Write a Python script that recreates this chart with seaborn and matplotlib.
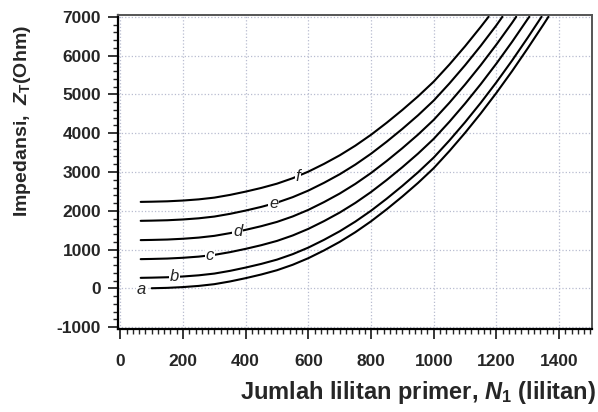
import matplotlib
matplotlib.use('Agg')
import matplotlib.pyplot as plt
from matplotlib.ticker import MultipleLocator
import seaborn as sns
import pandas as pd

# Data: turns N1 vs impedance Z_T (Ohm), curves a-f
n_a = [100, 150, 200, 250, 300, 350, 400, 450, 500, 550, 600, 650, 700, 750, 800,
       850, 900, 950, 1000, 1050, 1100, 1150, 1200, 1250, 1300, 1350, 1366]
z_a = [5, 15, 35, 65, 110, 180, 265, 360, 470, 610, 780, 980, 1200, 1450, 1730,
       2040, 2370, 2720, 3100, 3540, 4010, 4510, 5040, 5600, 6190, 6800, 7000]
n_b = [65, 100, 150, 200, 250, 300, 350, 400, 450, 500, 550, 600, 650, 700, 750,
       800, 850, 900, 950, 1000, 1050, 1100, 1150, 1200, 1250, 1300, 1344]
z_b = [273, 278, 288, 308, 338, 383, 453, 538, 633, 743, 883, 1053, 1253, 1473, 1723,
       2003, 2313, 2643, 2993, 3373, 3813, 4283, 4783, 5313, 5873, 6463, 7000]
n_c = [65, 100, 150, 200, 250, 300, 350, 400, 450, 500, 550, 600, 650, 700, 750,
       800, 850, 900, 950, 1000, 1050, 1100, 1150, 1200, 1250, 1300, 1305]
z_c = [755, 760, 770, 790, 820, 865, 935, 1020, 1115, 1225, 1365, 1535, 1735, 1955, 2205,
       2485, 2795, 3125, 3475, 3855, 4295, 4765, 5265, 5795, 6355, 6945, 7000]
n_d = [65, 100, 150, 200, 250, 300, 350, 400, 450, 500, 550, 600, 650, 700, 750,
       800, 850, 900, 950, 1000, 1050, 1100, 1150, 1200, 1250, 1263]
z_d = [1245, 1250, 1260, 1280, 1310, 1355, 1425, 1510, 1605, 1715, 1855, 2025, 2225, 2445, 2695,
       2975, 3285, 3615, 3965, 4345, 4785, 5255, 5755, 6285, 6845, 7000]
n_e = [65, 100, 150, 200, 250, 300, 350, 400, 450, 500, 550, 600, 650, 700, 750,
       800, 850, 900, 950, 1000, 1050, 1100, 1150, 1200, 1219]
z_e = [1742, 1747, 1757, 1777, 1807, 1852, 1922, 2007, 2102, 2212, 2352, 2522, 2722, 2942, 3192,
       3472, 3782, 4112, 4462, 4842, 5282, 5752, 6252, 6782, 7000]
n_f = [65, 100, 150, 200, 250, 300, 350, 400, 450, 500, 550, 600, 650, 700, 750,
       800, 850, 900, 950, 1000, 1050, 1100, 1150, 1175]
z_f = [2230, 2235, 2245, 2265, 2295, 2340, 2410, 2495, 2590, 2700, 2840, 3010, 3210, 3430, 3680,
       3960, 4270, 4600, 4950, 5330, 5770, 6240, 6740, 7000]

curve_names = ['a', 'b', 'c', 'd', 'e', 'f']
curve_n = [n_a, n_b, n_c, n_d, n_e, n_f]
curve_z = [z_a, z_b, z_c, z_d, z_e, z_f]
label_n = [68, 174, 285, 375, 490, 566]
label_z = [-20, 297, 850, 1460, 2200, 2890]

rows = []
for name, ns, zs in zip(curve_names, curve_n, curve_z):
    for n, z in zip(ns, zs):
        rows.append({'kurva': name, 'N1': n, 'ZT': z})
df = pd.DataFrame(rows)

sns.set_style('ticks')
plt.rcParams['font.family'] = ['Liberation Sans', 'DejaVu Sans']
plt.rcParams['axes.unicode_minus'] = False
plt.rcParams['mathtext.fontset'] = 'custom'
plt.rcParams['mathtext.rm'] = 'Liberation Sans:bold'
plt.rcParams['mathtext.it'] = 'Liberation Sans:bold:italic'
plt.rcParams['mathtext.bf'] = 'Liberation Sans:bold'

fig = plt.figure(figsize=(5.98, 4.12), dpi=100)
ax = fig.add_axes([0.197, 0.201, 0.793, 0.763])

sns.lineplot(data=df, x='N1', y='ZT', units='kurva', estimator=None,
             color='black', linewidth=1.5, sort=False, ax=ax)

for name, n, z in zip(curve_names, label_n, label_z):
    ax.text(n, z, name, fontsize=12, fontstyle='italic', ha='center', va='center',
            bbox=dict(facecolor='white', edgecolor='none', pad=0.6))

ax.set_xlim(-8, 1505)
ax.set_ylim(-1050, 7050)
ax.xaxis.set_major_locator(MultipleLocator(200))
ax.xaxis.set_minor_locator(MultipleLocator(20))
ax.yaxis.set_major_locator(MultipleLocator(1000))
ax.yaxis.set_minor_locator(MultipleLocator(200))
ax.grid(True, which='major', linestyle=':', color='#b8bcd0', linewidth=0.9)
ax.tick_params(which='major', direction='out', length=7, width=1.3, labelsize=12.5)
ax.tick_params(axis='x', which='major', pad=11)
ax.tick_params(axis='y', which='major', pad=5)
ax.tick_params(which='minor', direction='out', length=3.5, width=1.0)
for lbl in ax.get_xticklabels() + ax.get_yticklabels():
    lbl.set_fontweight('bold')

for side in ['left', 'bottom']:
    ax.spines[side].set_linewidth(1.6)
    ax.spines[side].set_color('black')
for side in ['top', 'right']:
    ax.spines[side].set_linewidth(1.4)
    ax.spines[side].set_color('#555555')

ax.set_xlabel(r'Jumlah lilitan primer, $N_{\mathit{1}}$ (lilitan)', fontsize=17,
              fontweight='bold', va='center')
ax.set_ylabel(r'Impedansi,  $Z_{\mathrm{T}}$(Ohm)', fontsize=14,
              fontweight='bold', va='center')
ax.xaxis.set_label_coords(0.633, -0.20)
ax.yaxis.set_label_coords(-0.20, 0.662)

fig.savefig('out.png', dpi=100)
